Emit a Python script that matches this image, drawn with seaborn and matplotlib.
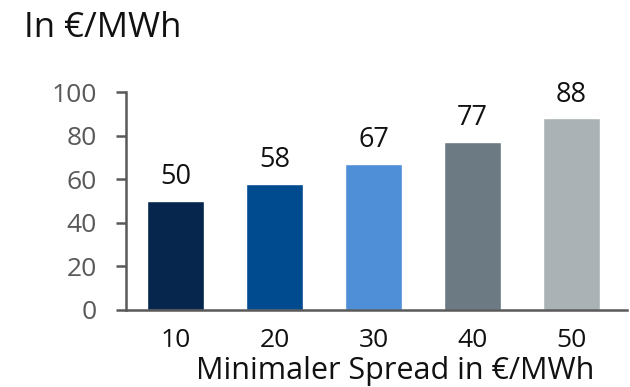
import matplotlib
matplotlib.use("Agg")
import matplotlib.pyplot as plt
import seaborn as sns
import pandas as pd

categories = ["10", "20", "30", "40", "50"]
values = [50, 58, 67, 77, 88]
colors = ["#06264D", "#004A8F", "#4E8FD8", "#6C7A83", "#AAB2B5"]
y_ticks = [0, 20, 40, 60, 80, 100]
title = "In €/MWh"
xlabel = "Minimaler Spread in €/MWh"

sns.set_theme(style="white")
plt.rcParams["font.family"] = ["Open Sans", "DejaVu Sans"]

df = pd.DataFrame({"spread": categories, "value": values})

fig = plt.figure(figsize=(6.3, 3.87), dpi=100)
ax = fig.add_axes([0.2, 0.199, 0.795, 0.563])

sns.barplot(data=df, x="spread", y="value", hue="spread", palette=colors,
            order=categories, hue_order=categories, width=0.57, legend=False,
            saturation=1, ax=ax)

for cont in ax.containers:
    ax.bar_label(cont, fmt="%g", padding=7, fontsize=19.5, color="#111111")

ax.set_ylim(0, 100)
ax.set_xlim(-0.5, 4.56)
ax.set_yticks(y_ticks)
ax.set_ylabel("")
ax.set_xlabel(xlabel, fontsize=22, color="#111111")
ax.xaxis.label.set_va("baseline")
ax.xaxis.set_label_coords(0.537, -0.318)

for s in ["top", "right"]:
    ax.spines[s].set_visible(False)
for s in ["left", "bottom"]:
    ax.spines[s].set_color("#595959")
    ax.spines[s].set_linewidth(1.8)

ax.tick_params(axis="y", which="both", left=True, length=7, width=1.8,
               color="#595959", labelsize=19, labelcolor="#595959", pad=14)
ax.tick_params(axis="x", bottom=False, labelsize=19, labelcolor="#111111", pad=7)

fig.text(0.038, 1 - 37 / 387, title, fontsize=25, color="#111111", va="baseline", ha="left")

fig.savefig("out.png", dpi=100)
